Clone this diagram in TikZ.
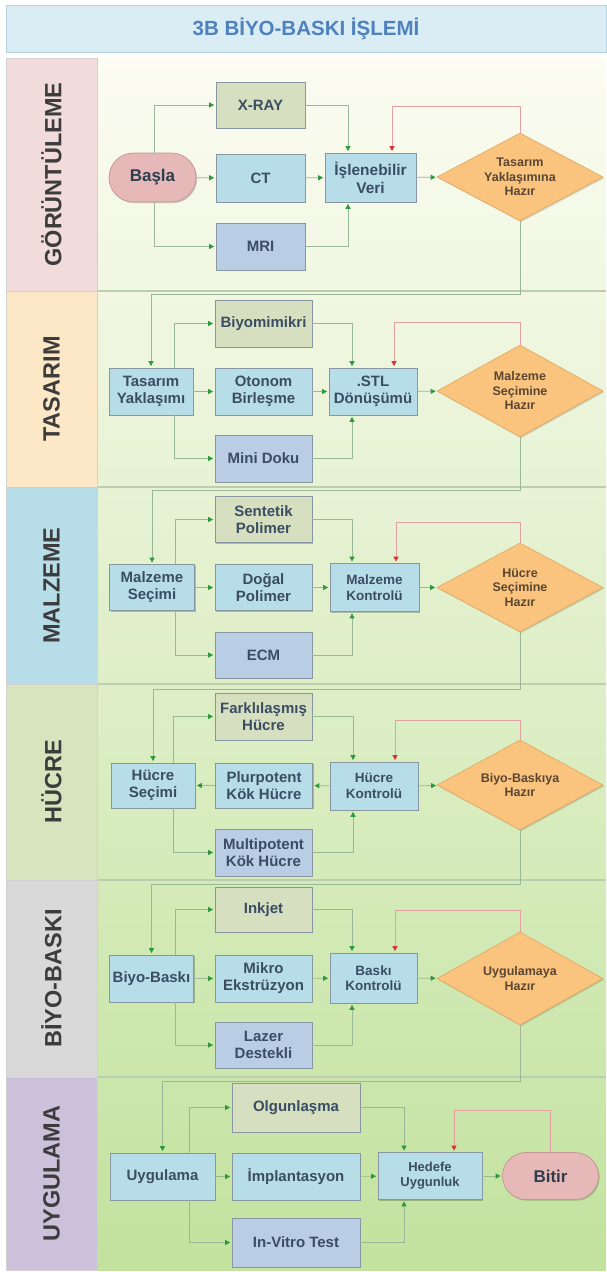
\documentclass[tikz,border=0pt]{standalone}
\usepackage{fontspec}
\setmainfont{Liberation Sans}
\usetikzlibrary{shapes.geometric,shapes.misc,arrows.meta,shadows,calc}

\definecolor{txt}{HTML}{3B4D63}
\definecolor{bord}{HTML}{8796A0}
\definecolor{ctop}{HTML}{D6DFBF}
\definecolor{cmid}{HTML}{B7DDE8}
\definecolor{cbot}{HTML}{B9CDE5}
\definecolor{decfill}{HTML}{FAC47F}
\definecolor{decbord}{HTML}{E2AA62}
\definecolor{dectxt}{HTML}{5A4632}
\definecolor{termfill}{HTML}{E6B8B7}
\definecolor{termbord}{HTML}{C39594}
\definecolor{linegreen}{HTML}{98B898}
\definecolor{headgreen}{HTML}{2F9A3C}
\definecolor{linered}{HTML}{E2A0A0}
\definecolor{headred}{HTML}{D8363A}
\definecolor{titlefill}{HTML}{DAEDF4}
\definecolor{titlebord}{HTML}{B5D3DE}
\definecolor{titletxt}{HTML}{4F81BD}
\definecolor{lanetxt}{HTML}{3C3C3C}
\definecolor{laneA}{HTML}{F2DCDB}
\definecolor{laneB}{HTML}{FCE8C6}
\definecolor{laneC}{HTML}{B7DEE8}
\definecolor{laneD}{HTML}{D7E4BD}
\definecolor{laneE}{HTML}{D9D9D9}
\definecolor{laneF}{HTML}{CCC1DA}
\definecolor{bgtop}{HTML}{FCFCF2}
\definecolor{bgbot}{HTML}{C2E29E}
\definecolor{sepcol}{HTML}{BCCDB0}

\begin{document}
\begin{tikzpicture}[x=1pt,y=-1pt,
  wh/.style 2 args={minimum width=#1pt, minimum height=#2pt},
  base/.style={draw=bord, line width=0.7pt, inner sep=1pt, align=center, text=txt,
    font=\bfseries\fontsize{15}{17}\selectfont,
    general shadow={fill=black, opacity=0.22, shadow xshift=1.2pt, shadow yshift=-1.2pt}},
  topbox/.style={base, fill=ctop},
  midbox/.style={base, fill=cmid},
  botbox/.style={base, fill=cbot},
  ctrlbox/.style={base, fill=cmid, font=\bfseries\fontsize{13.5}{15.5}\selectfont},
  dec/.style={diamond, draw=decbord, fill=decfill, line width=0.7pt, aspect=1.85, inner sep=0pt,
    text=dectxt, font=\bfseries\fontsize{12.5}{14.5}\selectfont, align=center,
    general shadow={fill=black, opacity=0.15, shadow xshift=1.2pt, shadow yshift=-1.2pt}},
  term/.style={rounded rectangle, draw=termbord, fill=termfill, line width=0.7pt, inner sep=1pt,
    text=txt!80!black, font=\bfseries\fontsize{17}{19}\selectfont,
    general shadow={fill=black, opacity=0.18, shadow xshift=1.2pt, shadow yshift=-1.2pt}},
  lanelabel/.style={rotate=90, inner sep=0pt, text=lanetxt, draw=black!18, line width=0.5pt,
    font=\bfseries\fontsize{23.5}{26}\selectfont},
  gl/.style={draw=linegreen, line width=0.8pt, shorten >=1.5pt,
    -{Triangle[length=5pt,width=5pt,color=headgreen]}},
  rl/.style={draw=linered, line width=0.8pt, shorten >=1.5pt,
    -{Triangle[length=5pt,width=5pt,color=headred]}}
]
\useasboundingbox (0,0) rectangle (606,1272);
\fill[white] (0,0) rectangle (606,1272);

% title
\node[draw=titlebord, fill=titlefill, line width=0.7pt, wh={600}{47}, text=titletxt,
  font=\bfseries\fontsize{20.5}{22}\selectfont] (title) at (306,28.5) {3B BİYO-BASKI İŞLEMİ};

% content background
\shade[top color=bgtop, bottom color=bgbot] (97,58) rectangle (606,1270);
\foreach \yy in {291,487,684,880,1077}
  \draw[sepcol, line width=1.3pt] (6,\yy) -- (606,\yy);
\draw[sepcol, line width=0.6pt] (97,58) -- (97,1270);

% lane labels
\node[lanelabel, fill=laneA, wh={233}{91}] (L1) at (51.5,174.5) {GÖRÜNTÜLEME};
\node[lanelabel, fill=laneB, wh={196}{91}] (L2) at (51.5,389) {TASARIM};
\node[lanelabel, fill=laneC, wh={197}{91}] (L3) at (51.5,585.5) {MALZEME};
\node[lanelabel, fill=laneD, wh={196}{91}] (L4) at (51.5,782) {HÜCRE};
\node[lanelabel, fill=laneE, wh={197}{91}] (L5) at (51.5,978.5) {BİYO-BASKI};
\node[lanelabel, fill=laneF, wh={193}{91}] (L6) at (51.5,1173.5) {UYGULAMA};

% helper coordinates
\coordinate (b1) at (154,0);  \coordinate (m1) at (348,0); \coordinate (r1) at (392,106);
\coordinate (b2) at (174,0);  \coordinate (m2) at (352,0); \coordinate (r2) at (394,322);
\coordinate (b3) at (175,0);  \coordinate (m3) at (352,0); \coordinate (r3) at (396,522);
\coordinate (b4) at (173,0);  \coordinate (m4) at (353,0); \coordinate (r4) at (395,720);
\coordinate (b5) at (175,0);  \coordinate (m5) at (352,0); \coordinate (r5) at (395,910);
\coordinate (b6) at (189,0);  \coordinate (m6) at (404,0); \coordinate (r6) at (454,1110);
\coordinate (ret1) at (0,294); \coordinate (ret2) at (0,490); \coordinate (ret3) at (0,689);
\coordinate (ret4) at (0,884); \coordinate (ret5) at (0,1081);

% ---------- lane 1 ----------
\node[term, wh={89}{49}] (S1) at (152.5,177.5) {Başla};
\node[topbox, wh={89}{46}] (T1) at (260.5,105) {X-RAY};
\node[midbox, wh={89}{48}] (M1) at (260.5,178) {CT};
\node[botbox, wh={89}{47}] (B1) at (260.5,246.5) {MRI};
\node[midbox, wh={91}{49}, font=\bfseries\fontsize{15.5}{18}\selectfont] (C1) at (370.5,177.5) {İşlenebilir\\Veri};
\node[dec, wh={166}{88}] (D1) at (520,177) {Tasarım\\Yaklaşımına\\Hazır};

% ---------- lane 2 ----------
\node[midbox, wh={84}{47}] (S2) at (151,391.5) {Tasarım\\Yaklaşımı};
\node[topbox, wh={97}{47}] (T2) at (263.5,323.5) {Biyomimikri};
\node[midbox, wh={97}{47}] (M2) at (263.5,391.5) {Otonom\\Birleşme};
\node[botbox, wh={97}{47}] (B2) at (263.5,458.5) {Mini Doku};
\node[midbox, wh={88}{47}] (C2) at (373,391.5) {.STL\\Dönüşümü};
\node[dec, wh={166}{92}] (D2) at (520,391) {Malzeme\\Seçimine\\Hazır};

% ---------- lane 3 ----------
\node[midbox, wh={85}{46}] (S3) at (152,587.5) {Malzeme\\Seçimi};
\node[topbox, wh={97}{46}] (T3) at (263.5,519.5) {Sentetik\\Polimer};
\node[midbox, wh={97}{46}] (M3) at (263.5,587.5) {Doğal\\Polimer};
\node[botbox, wh={97}{46}] (B3) at (263.5,655) {ECM};
\node[ctrlbox, wh={89}{48}] (C3) at (374.5,587.5) {Malzeme\\Kontrolü};
\node[dec, wh={166}{89}] (D3) at (520,587.5) {Hücre\\Seçimine\\Hazır};

% ---------- lane 4 ----------
\node[midbox, wh={84}{45}] (S4) at (153,785.5) {Hücre\\Seçimi};
\node[topbox, wh={97}{47}] (T4) at (263.5,716.5) {Farklılaşmış\\Hücre};
\node[midbox, wh={97}{45}] (M4) at (264,785.5) {Plurpotent\\Kök Hücre};
\node[botbox, wh={97}{47}] (B4) at (263.5,852.5) {Multipotent\\Kök Hücre};
\node[ctrlbox, wh={88}{48}] (C4) at (374,786) {Hücre\\Kontrolü};
\node[dec, wh={166}{90}] (D4) at (520,785) {Biyo-Baskıya\\Hazır};

% ---------- lane 5 ----------
\node[midbox, wh={84}{47}] (S5) at (151.5,978.5) {Biyo-Baskı};
\node[topbox, wh={97}{45}] (T5) at (263.5,909.5) {Inkjet};
\node[midbox, wh={97}{47}] (M5) at (263.5,978.5) {Mikro\\Ekstrüzyon};
\node[botbox, wh={97}{46}] (B5) at (263.5,1045) {Lazer\\Destekli};
\node[ctrlbox, wh={87}{50}] (C5) at (373.5,978) {Baskı\\Kontrolü};
\node[dec, wh={166}{93}] (D5) at (520,978.5) {Uygulamaya\\Hazır};

% ---------- lane 6 ----------
\node[midbox, wh={105}{47}] (S6) at (162.5,1176.5) {Uygulama};
\node[topbox, wh={128}{49}] (T6) at (296,1107.5) {Olgunlaşma};
\node[midbox, wh={128}{47}] (M6) at (296,1176.5) {İmplantasyon};
\node[botbox, wh={128}{49}] (B6) at (296,1242.5) {In-Vitro Test};
\node[ctrlbox, wh={104}{47}, font=\bfseries\fontsize{13}{15}\selectfont] (C6) at (430,1176) {Hedefe\\Uygunluk};
\node[term, wh={98}{47}] (E6) at (550.5,1176) {Bitir};

% ---------- connectors ----------
\begin{scope}[on background layer/.style={}]
% lane 1
\draw[gl] (S1) -- (M1);
\draw[gl] (S1.north -| b1) |- (T1);
\draw[gl] (S1.south -| b1) |- (B1);
\draw[gl] (M1) -- (C1);
\draw[gl] (T1) -| (C1.north -| m1);
\draw[gl] (B1) -| (C1.south -| m1);
\draw[gl] (C1) -- (D1);
\draw[rl] (D1.north) |- (r1) -- (C1.north -| r1);
\draw[gl] (D1.south) |- (S2.north |- ret1) -- (S2.north);
% lane 2
\draw[gl] (S2) -- (M2);
\draw[gl] (S2.north -| b2) |- (T2);
\draw[gl] (S2.south -| b2) |- (B2);
\draw[gl] (M2) -- (C2);
\draw[gl] (T2) -| (C2.north -| m2);
\draw[gl] (B2) -| (C2.south -| m2);
\draw[gl] (C2) -- (D2);
\draw[rl] (D2.north) |- (r2) -- (C2.north -| r2);
\draw[gl] (D2.south) |- (S3.north |- ret2) -- (S3.north);
% lane 3
\draw[gl] (S3) -- (M3);
\draw[gl] (S3.north -| b3) |- (T3);
\draw[gl] (S3.south -| b3) |- (B3);
\draw[gl] (M3) -- (C3);
\draw[gl] (T3) -| (C3.north -| m3);
\draw[gl] (B3) -| (C3.south -| m3);
\draw[gl] (C3) -- (D3);
\draw[rl] (D3.north) |- (r3) -- (C3.north -| r3);
\draw[gl] (D3.south) |- (S4.north |- ret3) -- (S4.north);
% lane 4
\draw[gl] (M4) -- (S4);
\draw[gl] (S4.north -| b4) |- (T4);
\draw[gl] (S4.south -| b4) |- (B4);
\draw[gl] (C4) -- (M4);
\draw[gl] (T4) -| (C4.north -| m4);
\draw[gl] (B4) -| (C4.south -| m4);
\draw[gl] (C4) -- (D4);
\draw[rl] (D4.north) |- (r4) -- (C4.north -| r4);
\draw[gl] (D4.south) |- (S5.north |- ret4) -- (S5.north);
% lane 5
\draw[gl] (S5) -- (M5);
\draw[gl] (S5.north -| b5) |- (T5);
\draw[gl] (S5.south -| b5) |- (B5);
\draw[gl] (M5) -- (C5);
\draw[gl] (T5) -| (C5.north -| m5);
\draw[gl] (B5) -| (C5.south -| m5);
\draw[gl] (C5) -- (D5);
\draw[rl] (D5.north) |- (r5) -- (C5.north -| r5);
\draw[gl] (D5.south) |- (S6.north |- ret5) -- (S6.north);
% lane 6
\draw[gl] (S6) -- (M6);
\draw[gl] (S6.north -| b6) |- (T6);
\draw[gl] (S6.south -| b6) |- (B6);
\draw[gl] (M6) -- (C6);
\draw[gl] (T6) -| (C6.north -| m6);
\draw[gl] (B6) -| (C6.south -| m6);
\draw[gl] (C6) -- (E6);
\draw[rl] (E6.north) |- (r6) -- (C6.north -| r6);
\end{scope}
\end{tikzpicture}
\end{document}
